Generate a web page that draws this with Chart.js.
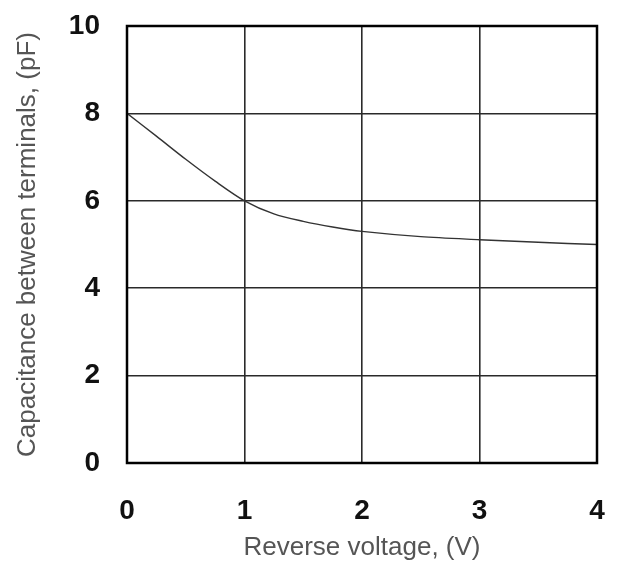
<!DOCTYPE html>
<html>
<head>
<meta charset="utf-8">
<script src="https://cdn.jsdelivr.net/npm/chart.js@4.4.1/dist/chart.umd.min.js"></script>
<style>
html,body{margin:0;padding:0;background:#fff;}
#wrap{width:617px;height:563px;position:relative;}
</style>
</head>
<body>
<div id="wrap"><canvas id="c" width="617" height="563"></canvas></div>
<script>
// Data
const voltage = [0, 0.25, 0.5, 0.75, 1, 1.25, 1.5, 1.75, 2, 2.5, 3, 3.5, 4];
const capacitance = [8.0, 7.48, 6.95, 6.45, 6.0, 5.7, 5.53, 5.40, 5.30, 5.18, 5.11, 5.05, 5.0];
const xTickValues = [0, 1, 2, 3, 4];
const yTickValues = [0, 2, 4, 6, 8, 10];
const xTitle = 'Reverse voltage, (V)';
const yTitle = 'Capacitance between terminals, (pF)';

const points = voltage.map((v, i) => ({x: v, y: capacitance[i]}));

const framePlugin = {
  id: 'frame',
  afterDatasetsDraw(chart) {
    const {ctx, chartArea: a} = chart;
    ctx.save();
    ctx.strokeStyle = '#000';
    ctx.lineWidth = 2.5;
    ctx.strokeRect(a.left, a.top, a.right - a.left, a.bottom - a.top);
    ctx.restore();
  }
};

const tickFont = {family: '"Liberation Sans", Arial, sans-serif', size: 28, weight: 'bold'};
const titleFont = {family: '"Liberation Sans", Arial, sans-serif', size: 26, weight: 'normal'};

function zeroPad(axis) {
  axis.paddingTop = 0; axis.paddingBottom = 0;
  axis.paddingLeft = 0; axis.paddingRight = 0;
}

new Chart(document.getElementById('c'), {
  type: 'line',
  data: {
    datasets: [{
      data: points,
      borderColor: '#333',
      borderWidth: 1.4,
      pointRadius: 0,
      tension: 0.3,
      fill: false
    }]
  },
  options: {
    responsive: false,
    animation: false,
    devicePixelRatio: 1,
    layout: {padding: {top: 26, right: 20, left: 0, bottom: 0}},
    plugins: {legend: {display: false}, tooltip: {enabled: false}},
    scales: {
      x: {
        type: 'linear',
        min: 0, max: 4,
        afterBuildTicks(axis) { axis.ticks = xTickValues.map(v => ({value: v})); },
        afterFit(axis) { axis.height = 100; zeroPad(axis); },
        grid: {color: '#2a2a2a', lineWidth: 1.6, drawTicks: false},
        border: {display: false},
        ticks: {font: tickFont, color: '#111', padding: 31, maxRotation: 0, autoSkip: false},
        title: {display: true, text: xTitle, font: titleFont, color: '#555', padding: {top: 0, bottom: 0}}
      },
      y: {
        type: 'linear',
        min: 0, max: 10,
        afterBuildTicks(axis) { axis.ticks = yTickValues.map(v => ({value: v})); },
        afterFit(axis) { axis.width = 127; zeroPad(axis); },
        grid: {color: '#2a2a2a', lineWidth: 1.6, drawTicks: false},
        border: {display: false},
        ticks: {font: tickFont, color: '#111', padding: 27, autoSkip: false},
        title: {display: true, text: yTitle, font: titleFont, color: '#555', padding: {top: 12, bottom: 0}}
      }
    }
  },
  plugins: [framePlugin]
});
</script>
</body>
</html>
